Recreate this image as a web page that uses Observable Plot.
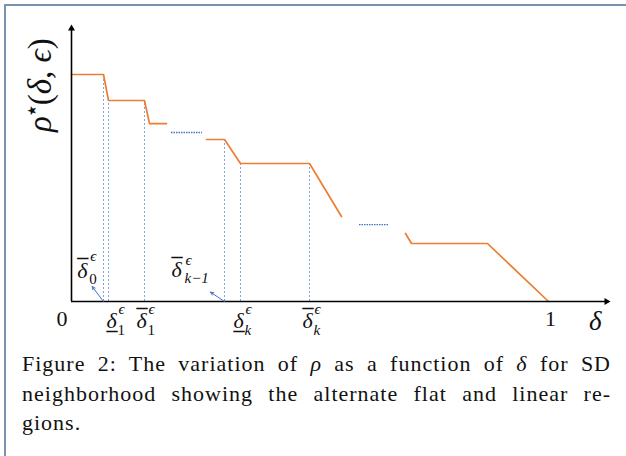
<!DOCTYPE html>
<html><head><meta charset="utf-8">
<script src="https://cdn.jsdelivr.net/npm/d3@7"></script>
<script src="https://cdn.jsdelivr.net/npm/@observablehq/plot@0.6"></script>
<style>
html,body{margin:0;padding:0;background:#fff;}
#wrap{position:relative;width:626px;height:456px;overflow:hidden;background:#fff;}
#frame{position:absolute;left:4px;top:4px;width:700px;height:600px;border-left:2px solid #7b93b0;border-top:2px solid #7b93b0;}
#chart{position:absolute;left:0;top:0;}
#caption{position:absolute;left:22px;top:349px;width:589px;font-family:"Liberation Serif",serif;font-size:22px;line-height:29.5px;color:#111;letter-spacing:1px;}
#caption div{text-align:justify;text-align-last:justify;}
#caption div.last{text-align-last:left;}
</style>
</head><body>
<div id="wrap">
  <div id="frame"></div>
  <div id="chart"></div>
  <div id="caption">
    <div>Figure 2: The variation of <i>ρ</i> as a function of <i>δ</i> for SD</div>
    <div>neighborhood showing the alternate flat and linear re-</div>
    <div class="last">gions.</div>
  </div>
</div>
<script>
// ---- data (δ on x, ρ*(δ,ϵ) on y) ----
const seg1X = [0, 0.0671, 0.0776, 0.1530, 0.1635, 0.1992];
const seg1Y = [1.0, 1.0, 0.8855, 0.8855, 0.784, 0.784];
const seg2X = [0.2830, 0.3208, 0.3543, 0.4990, 0.5660];
const seg2Y = [0.7137, 0.7137, 0.608, 0.608, 0.3744];
const seg3X = [0.7002, 0.7128, 0.8721, 1.0];
const seg3Y = [0.2996, 0.2555, 0.2555, 0];
// dotted "…" continuation pieces
const gapX1 = [0.2096, 0.6038];
const gapX2 = [0.2746, 0.6667];
const gapY = [0.7445, 0.339];
// vertical guide lines (threshold deltas) and their tops
const guideX = [0.0671, 0.0776, 0.1530, 0.3208, 0.3543, 0.4990];
const guideTop = [1.0, 0.8855, 0.8855, 0.7137, 0.608, 0.608];
// tick labels under the axis
const tickValues = [0.0776, 0.1530, 0.3543, 0.4990];
const tickSubs = ["1", "1", "k", "k"];
const tickBars = ["under", "over", "under", "over"];
// pointer arrows to labels above the axis
const pointerFrom = [0.0671, 0.3208];
const pointerToX = [0.0434, 0.2914];
const pointerToY = [0.066, 0.041];
const pointerSubs = ["0", "k−1"];
const xMax = 1.1216, yMax = 1.2026;

const segs = [[seg1X, seg1Y], [seg2X, seg2Y], [seg3X, seg3Y]];
const pts = segs.flatMap(([xs, ys], s) => xs.map((x, i) => ({x, y: ys[i], s})));

const ORANGE = "#ED7D31", BLUE = "#4472C4", GUIDE = "#7fa3dc";
const H = 345;
const math = {fontFamily: "Liberation Serif", fontStyle: "italic", fill: "#111"};
const bar = {fontFamily: "DejaVu Sans", fontSize: 22, fill: "#111", textAnchor: "start", lineAnchor: "bottom"};

const labelMarks = [];
const shifts = [-2, -8, -7, -7];
tickValues.forEach((v, i) => {
  const s = shifts[i];
  labelMarks.push(
    Plot.text([v], {x: d => d, y: 0, text: () => "δ", ...math, fontSize: 22, textAnchor: "start", lineAnchor: "bottom", dx: s, dy: 26}),
    Plot.text([v], {x: d => d, y: 0, text: () => "_", ...bar, dx: s, dy: tickBars[i] === "over" ? 2 : 25}),
    Plot.text([v], {x: d => d, y: 0, text: () => tickSubs[i], ...math, fontStyle: tickSubs[i] === "k" ? "italic" : "normal", fontSize: 15, textAnchor: "start", lineAnchor: "bottom", dx: s + 11, dy: 33}),
    Plot.text([v], {x: d => d, y: 0, text: () => "ϵ", ...math, fontSize: 15, textAnchor: "start", lineAnchor: "bottom", dx: s + 12, dy: 12})
  );
});
// pointer labels
const pOff = [{m: [-15, -9], sb: [-3, -3], sp: [-2, -26]}, {m: [-39, -15], sb: [-26, -9], sp: [-25, -27]}];
pointerFrom.forEach((_, i) => {
  const o = pOff[i];
  const at = {x: () => pointerToX[i], y: () => pointerToY[i]};
  labelMarks.push(
    Plot.text([0], {...at, text: () => "δ", ...math, fontSize: 22, textAnchor: "start", lineAnchor: "bottom", dx: o.m[0], dy: o.m[1]}),
    Plot.text([0], {...at, text: () => "_", ...bar, dx: o.m[0], dy: o.m[1] - 24}),
    Plot.text([0], {...at, text: () => pointerSubs[i], ...math, fontStyle: i === 0 ? "normal" : "italic", fontSize: 15, textAnchor: "start", lineAnchor: "bottom", dx: o.sb[0], dy: o.sb[1]}),
    Plot.text([0], {...at, text: () => "ϵ", ...math, fontSize: 15, textAnchor: "start", lineAnchor: "bottom", dx: o.sp[0], dy: o.sp[1]})
  );
});

const chart = Plot.plot({
  width: 626, height: H,
  marginLeft: 71, marginRight: 20, marginTop: 28, marginBottom: H - 301,
  x: {domain: [0, xMax], axis: null},
  y: {domain: [0, yMax], axis: null},
  style: {background: "transparent", overflow: "visible"},
  marks: [
    Plot.ruleX(guideX, {x: d => d, y1: 0, y2: (d, i) => guideTop[i], stroke: GUIDE, strokeWidth: 1, strokeDasharray: "2,2"}),
    Plot.ruleY(gapY, {y: d => d, x1: (d, i) => gapX1[i], x2: (d, i) => gapX2[i], stroke: BLUE, strokeWidth: 1.3, strokeDasharray: "1.5,1"}),
    Plot.line(pts, {x: "x", y: "y", z: "s", stroke: ORANGE, strokeWidth: 1.7}),
    Plot.ruleY([0], {x1: 0, x2: xMax, stroke: "#000", strokeWidth: 1.6}),
    Plot.ruleX([0], {y1: 0, y2: yMax, stroke: "#000", strokeWidth: 1.6}),
    Plot.dot([xMax], {x: d => d, y: 0, symbol: "triangle", r: 2.6, rotate: 90, fill: "#000", stroke: "none"}),
    Plot.dot([yMax], {x: 0, y: d => d, symbol: "triangle", r: 2.6, fill: "#000", stroke: "none"}),
    Plot.arrow(pointerFrom, {x1: d => d, y1: 0, x2: (d, i) => pointerToX[i], y2: (d, i) => pointerToY[i], stroke: BLUE, strokeWidth: 1, headLength: 5, headAngle: 50}),
    Plot.text([0], {x: d => d, y: 0, text: () => "0", fontFamily: "Liberation Serif", fontSize: 22, fill: "#111", textAnchor: "end", lineAnchor: "bottom", dx: -4, dy: 24}),
    Plot.text([1], {x: d => d, y: 0, text: () => "1", fontFamily: "Liberation Serif", fontSize: 22, fill: "#111", textAnchor: "middle", lineAnchor: "bottom", dx: 2, dy: 24}),
    Plot.text([xMax], {x: d => d, y: 0, text: () => "δ", ...math, fontSize: 27, textAnchor: "end", lineAnchor: "bottom", dx: -5, dy: 28}),
    Plot.text([0], {frameAnchor: "left", text: () => "ρ★(δ, ϵ)", ...math, fontSize: 33, rotate: -90, textAnchor: "middle", lineAnchor: "bottom", dx: -21, dy: -80, ariaDescription: "ylabel"}),
    ...labelMarks
  ]
});
document.getElementById("chart").appendChild(chart);

// mixed upright/italic + raised star in the y label
const yl = chart.querySelector('g[aria-description="ylabel"] text');
if (yl) {
  const parts = [["ρ", "italic"], ["★", "normal", -15, "12px"], ["(", "normal"], ["δ", "italic"], [", ", "normal"], ["ϵ", "italic"], [")", "normal"]];
  yl.textContent = "";
  let shifted = false;
  parts.forEach(([t, st, dy, fs]) => {
    const ts = document.createElementNS("http://www.w3.org/2000/svg", "tspan");
    ts.textContent = t;
    ts.style.fontStyle = st;
    if (dy) { ts.setAttribute("dy", dy); shifted = true; if (fs) { ts.style.fontSize = fs; ts.style.fontFamily = "DejaVu Sans"; } }
    else if (shifted) { ts.setAttribute("dy", 15); shifted = false; }
    yl.appendChild(ts);
  });
}
</script>
</body></html>
